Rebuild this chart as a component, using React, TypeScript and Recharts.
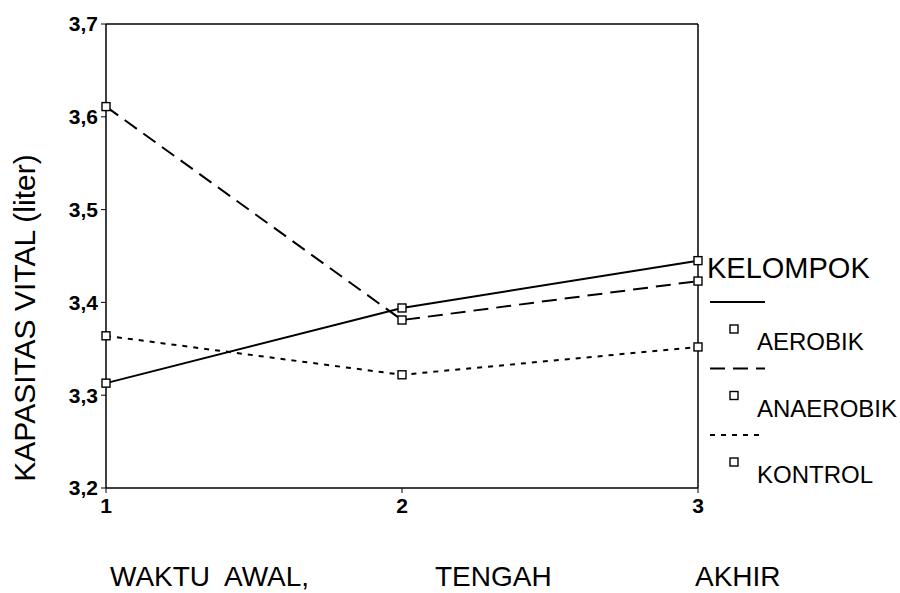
import React from "react";
import {
  LineChart,
  Line,
  XAxis,
  YAxis,
  Legend,
  ReferenceLine,
} from "recharts";

const timePoints = [1, 2, 3];
const aerobik = [3.313, 3.394, 3.445];
const anaerobik = [3.611, 3.381, 3.423];
const kontrol = [3.364, 3.322, 3.352];
const yTicks = [3.2, 3.3, 3.4, 3.5, 3.6, 3.7];
const periodLabels = ["WAKTU  AWAL,", "TENGAH", "AKHIR"];

const data = timePoints.map((t, i) => ({
  waktu: t,
  AEROBIK: aerobik[i],
  ANAEROBIK: anaerobik[i],
  KONTROL: kontrol[i],
}));

const FONT = "'Liberation Sans', Arial, sans-serif";

const SquareDot = (props: any) => {
  const { cx, cy } = props;
  if (cx == null || cy == null) return null;
  return (
    <rect
      x={cx - 4}
      y={cy - 4}
      width={8}
      height={8}
      fill="#fff"
      stroke="#000"
      strokeWidth={1.4}
    />
  );
};

const dashFor: Record<string, string | undefined> = {
  AEROBIK: undefined,
  ANAEROBIK: "15 8",
  KONTROL: "5 6",
};

const renderLegend = (props: any) => {
  const { payload } = props;
  return (
    <svg width={200} height={250} style={{ fontFamily: FONT, overflow: "visible" }}>
      <text x={1} y={30} fontSize={29} fill="#000">
        KELOMPOK
      </text>
      {(payload || []).map((entry: any, i: number) => {
        const top = 54 + i * 66.5;
        return (
          <g key={entry.value}>
            <line
              x1={4}
              x2={59}
              y1={top}
              y2={top}
              stroke="#000"
              strokeWidth={2}
              strokeDasharray={dashFor[entry.value]}
            />
            <rect x={24} y={top + 23} width={8} height={8} fill="#fff" stroke="#000" strokeWidth={1.4} />
            <text x={51} y={top + 48} fontSize={24} fill="#000">
              {entry.value}
            </text>
          </g>
        );
      })}
    </svg>
  );
};

export default function App() {
  return (
    <div style={{ position: "absolute", left: 0, top: 0, width: 900, height: 593, background: "#fff", overflow: "hidden" }}>
      <LineChart
        width={900}
        height={593}
        data={data}
        margin={{ top: 24, right: 202, left: 56, bottom: 75 }}
      >
        <XAxis
          dataKey="waktu"
          type="number"
          domain={[1, 3]}
          ticks={timePoints}
          axisLine={{ stroke: "#000", strokeWidth: 1.5 }}
          tickLine={{ stroke: "#000" }}
          tickSize={5}
          tickMargin={5}
          height={30}
          tick={{ fill: "#000", fontSize: 21, fontWeight: "bold", fontFamily: FONT }}
        />
        <YAxis
          type="number"
          domain={[3.2, 3.7]}
          ticks={yTicks}
          width={50}
          interval={0}
          axisLine={{ stroke: "#000", strokeWidth: 1.5 }}
          tickLine={{ stroke: "#000" }}
          tickSize={5}
          tickMargin={3}
          tickFormatter={(v: number) => v.toFixed(1).replace(".", ",")}
          tick={{ fill: "#000", fontSize: 21, fontWeight: "bold", fontFamily: FONT }}
        />
        <ReferenceLine y={3.7} stroke="#000" strokeWidth={1.5} />
        <ReferenceLine x={3} stroke="#000" strokeWidth={1.5} />
        <Legend
          content={renderLegend}
          layout="vertical"
          align="right"
          verticalAlign="middle"
          wrapperStyle={{ position: "absolute", left: 706, top: 248, width: 0, height: 0, overflow: "visible" }}
        />
        <Line
          dataKey="AEROBIK"
          stroke="#000"
          strokeWidth={2}
          dot={<SquareDot />}
          activeDot={false}
          isAnimationActive={false}
        />
        <Line
          dataKey="ANAEROBIK"
          stroke="#000"
          strokeWidth={2}
          strokeDasharray="15 8"
          dot={<SquareDot />}
          activeDot={false}
          isAnimationActive={false}
        />
        <Line
          dataKey="KONTROL"
          stroke="#000"
          strokeWidth={2}
          strokeDasharray="5 6"
          dot={<SquareDot />}
          activeDot={false}
          isAnimationActive={false}
        />
      </LineChart>
      <div
        style={{
          position: "absolute",
          left: 25,
          top: 318,
          transform: "translate(-50%, -50%) rotate(-90deg)",
          whiteSpace: "nowrap",
          fontFamily: FONT,
          fontSize: 30,
          color: "#000",
        }}
      >
        KAPASITAS VITAL (liter)
      </div>
      {periodLabels.map((label, i) => (
        <div
          key={label}
          style={{
            position: "absolute",
            left: [110, 435, 695][i],
            top: 561,
            whiteSpace: "pre",
            fontFamily: FONT,
            fontSize: 28,
            color: "#000",
          }}
        >
          {label}
        </div>
      ))}
    </div>
  );
}
